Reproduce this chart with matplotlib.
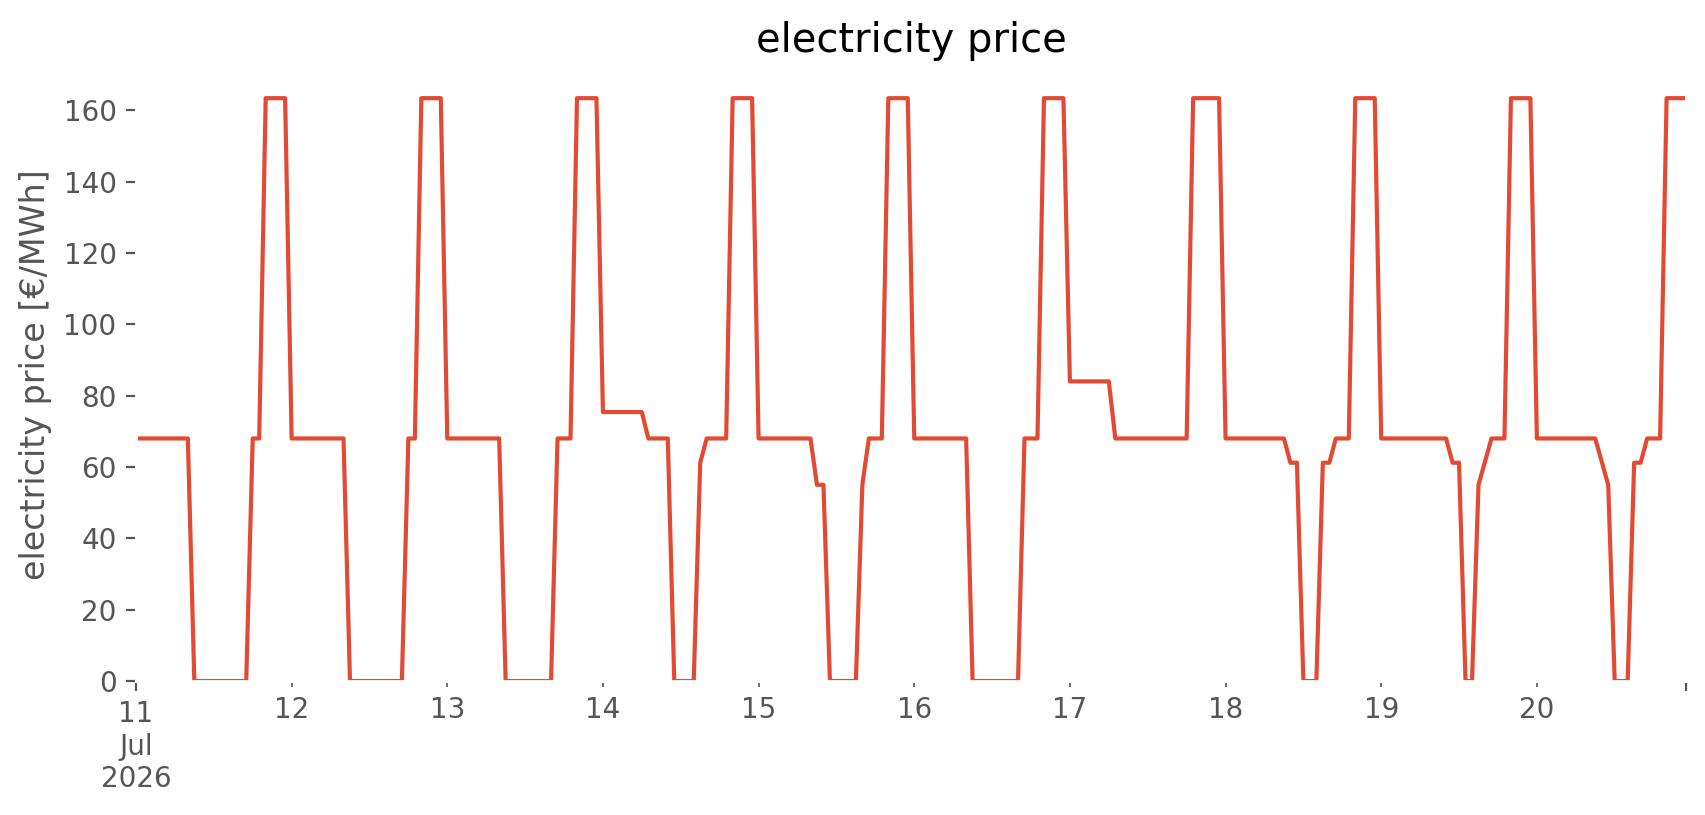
import matplotlib
matplotlib.use('Agg')
import matplotlib.pyplot as plt
import pandas as pd

# hourly electricity price, one list per day (00:00 .. 23:00)
jul11 = [68, 68, 68, 68, 68, 68, 68, 68, 68, 0, 0, 0, 0, 0, 0, 0, 0, 0, 68, 68, 163.4, 163.4, 163.4, 163.4]
jul12 = [68, 68, 68, 68, 68, 68, 68, 68, 68, 0, 0, 0, 0, 0, 0, 0, 0, 0, 68, 68, 163.4, 163.4, 163.4, 163.4]
jul13 = [68, 68, 68, 68, 68, 68, 68, 68, 68, 0, 0, 0, 0, 0, 0, 0, 0, 68, 68, 68, 163.4, 163.4, 163.4, 163.4]
jul14 = [75.4, 75.4, 75.4, 75.4, 75.4, 75.4, 75.4, 68, 68, 68, 68, 0, 0, 0, 0, 61.2, 68, 68, 68, 68, 163.4, 163.4, 163.4, 163.4]
jul15 = [68, 68, 68, 68, 68, 68, 68, 68, 68, 55, 55, 0, 0, 0, 0, 0, 55, 68, 68, 68, 163.4, 163.4, 163.4, 163.4]
jul16 = [68, 68, 68, 68, 68, 68, 68, 68, 68, 0, 0, 0, 0, 0, 0, 0, 0, 68, 68, 68, 163.4, 163.4, 163.4, 163.4]
jul17 = [84, 84, 84, 84, 84, 84, 84, 68, 68, 68, 68, 68, 68, 68, 68, 68, 68, 68, 68, 163.4, 163.4, 163.4, 163.4, 163.4]
jul18 = [68, 68, 68, 68, 68, 68, 68, 68, 68, 68, 61.2, 61.2, 0, 0, 0, 61.2, 61.2, 68, 68, 68, 163.4, 163.4, 163.4, 163.4]
jul19 = [68, 68, 68, 68, 68, 68, 68, 68, 68, 68, 68, 61.2, 61.2, 0, 0, 55, 61.5, 68, 68, 68, 163.4, 163.4, 163.4, 163.4]
jul20 = [68, 68, 68, 68, 68, 68, 68, 68, 68, 68, 61.5, 55, 0, 0, 0, 61.2, 61.2, 68, 68, 68, 163.4, 163.4, 163.4, 163.4]

days = [jul11, jul12, jul13, jul14, jul15, jul16, jul17, jul18, jul19, jul20]
prices = [p for day in days for p in day]

index = pd.date_range('2026-07-11 00:00', periods=len(prices), freq='h')
price = pd.Series(prices, index=index)

plt.style.use('ggplot')

fig = plt.figure(figsize=(8.53, 4.075), dpi=200)
ax = fig.add_axes([0.0797, 0.1644, 0.9086, 0.7509])

price.plot(ax=ax)

ax.set_facecolor('white')
ax.grid(False)
ax.set_ylim(bottom=0)
ax.set_title('electricity price')
ax.set_ylabel('electricity price [€/MWh]')

fig.savefig('out.png', dpi=200)
